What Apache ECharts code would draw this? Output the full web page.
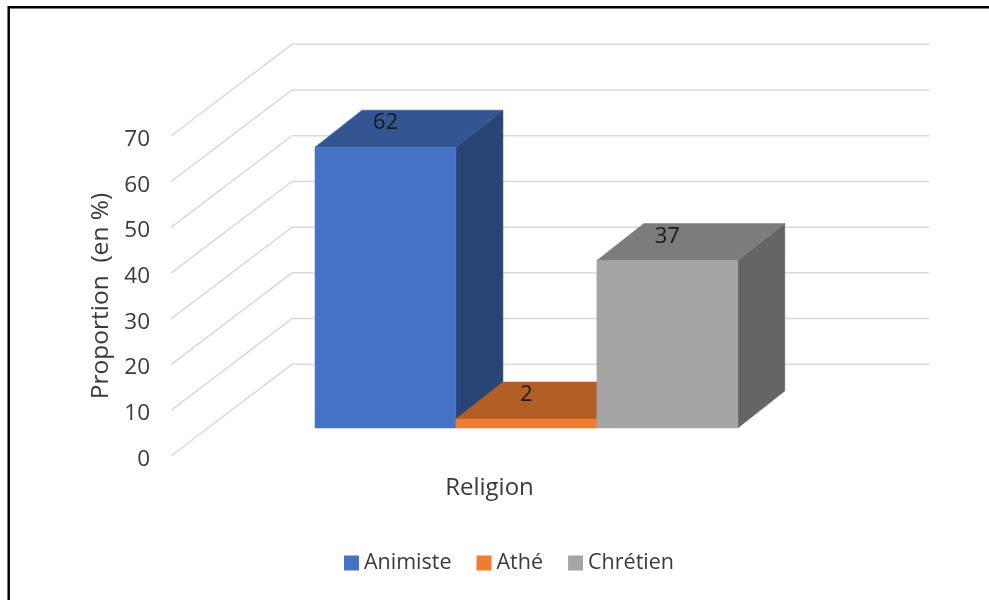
<!DOCTYPE html>
<html><head><meta charset="utf-8">
<style>html,body{margin:0;padding:0;background:#fff}#c{width:989px;height:600px}</style>
<script src="https://cdn.jsdelivr.net/npm/echarts@6/dist/echarts.min.js"></script>
</head><body><div id="c"></div>
<script>
var categories = ['Religion'];
var seriesNames = ['Animiste', 'Athé', 'Chrétien'];
var animiste = [62];
var athe = [2];
var chretien = [37];
var ticks = [0, 10, 20, 30, 40, 50, 60, 70];
var frontColors = ['#4472C4', '#ED7D31', '#A5A5A5'];
var topColors = ['#335693', '#B35E25', '#7C7C7C'];
var sideColors = ['#294476', '#8E4B1D', '#656565'];

var DX = 121, DY = -91.7, D0 = 0.305, OX = 47, OY = -37, FORESHORTEN = 0.991;
var FONT = '"Open Sans"', TXT = '#3a3a3a';

function poly(pts, color) {
  return { type: 'polygon', shape: { points: pts }, style: { fill: color, stroke: color, lineWidth: 0.5 } };
}
function barSeries(idx, values) {
  return {
    type: 'custom', name: seriesNames[idx], coordinateSystem: 'cartesian2d', clip: false, z: 3 + idx,
    itemStyle: { color: frontColors[idx] },
    data: values.map(function (v, i) { return [i, v]; }),
    encode: { x: 0, y: 1 },
    renderItem: function (params, api) {
      var band = api.size([1, 0])[0], w = band / 4.52;
      var c = api.coord([api.value(0), api.value(1)]);
      var b = api.coord([api.value(0), 0]);
      var x0 = c[0] - 1.5 * w + idx * w + D0 * DX, x1 = x0 + w;
      var yB = b[1] + D0 * DY, yT = yB - (b[1] - c[1]) * FORESHORTEN;
      return { type: 'group', children: [
        poly([[x1, yT], [x1 + OX, yT + OY], [x1 + OX, yB + OY], [x1, yB]], sideColors[idx]),
        poly([[x0, yT], [x0 + OX, yT + OY], [x1 + OX, yT + OY], [x1, yT]], topColors[idx]),
        poly([[x0, yT], [x1, yT], [x1, yB], [x0, yB]], frontColors[idx]),
        { type: 'text', z2: 10, style: { x: (x0 + x1) / 2, y: yT - 24, text: String(api.value(1)),
          align: 'center', verticalAlign: 'middle', font: '22px ' + FONT, fill: '#1a1a1a' } }
      ] };
    }
  };
}

var chart = echarts.init(document.getElementById('c'), null, { renderer: 'canvas' });
chart.setOption({
  animation: false,
  backgroundColor: '#fff',
  textStyle: { fontFamily: FONT },
  grid: { left: 171, top: 136, width: 637, height: 320, containLabel: false },
  xAxis: {
    type: 'category', data: categories, name: 'Religion', nameLocation: 'middle', nameGap: 20,
    nameTextStyle: { fontSize: 24, color: TXT, fontFamily: FONT },
    axisLine: { show: false }, axisTick: { show: false }, axisLabel: { show: false }, splitLine: { show: false }
  },
  yAxis: {
    type: 'value', min: 0, max: 70, interval: 10, name: 'Proportion  (en %)', nameLocation: 'middle', nameGap: 56,
    nameTextStyle: { fontSize: 24.5, color: TXT, fontFamily: FONT },
    axisLine: { show: false }, axisTick: { show: false }, splitLine: { show: false },
    axisLabel: { margin: 21, formatter: '{t|{value}}',
      rich: { t: { fontSize: 22.5, color: TXT, fontFamily: FONT, padding: [7, 0, 0, 0] } } }
  },
  legend: {
    data: seriesNames, left: 344, top: 552, icon: 'rect', itemWidth: 15, itemHeight: 15, itemGap: 25,
    textStyle: { fontSize: 21.5, color: TXT, fontFamily: FONT },
    padding: 0
  },
  graphic: [{
    type: 'polyline', silent: true, z: 100,
    shape: { points: [[8.7, 600], [8.7, 7.2], [989, 7.2]] },
    style: { stroke: '#000', lineWidth: 2.5, fill: null }
  }],
  series: [{
    type: 'custom', name: 'grille', coordinateSystem: 'cartesian2d', clip: false, z: 1, silent: true,
    data: ticks.map(function (t) { return [0, t]; }),
    encode: { x: 0, y: 1 },
    renderItem: function (params, api) {
      var y = api.coord([0, api.value(1)])[1], cs = params.coordSys;
      return { type: 'polyline',
        shape: { points: [[cs.x, y], [cs.x + DX, y + DY], [cs.x + cs.width + DX, y + DY]] },
        style: { stroke: '#D9D9D9', lineWidth: 1.5, fill: null } };
    }
  }, barSeries(0, animiste), barSeries(1, athe), barSeries(2, chretien)]
});
</script></body></html>
